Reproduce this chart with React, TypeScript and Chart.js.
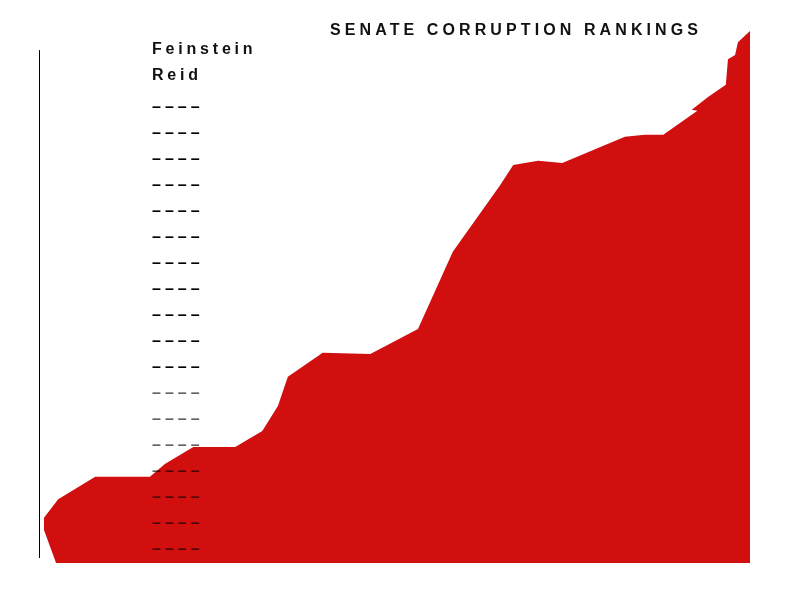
import { useEffect, useRef } from "react";
import { Chart, registerables } from "chart.js";

Chart.register(...registerables);

// ---- data ----
const TITLE = "SENATE CORRUPTION RANKINGS";
const NAMED = ["Feinstein", "Reid"];
const PLACEHOLDERS = [
  "––––", "––––", "––––", "––––", "––––", "––––", "––––", "––––", "––––",
  "––––", "––––", "––––", "––––", "––––", "––––", "––––", "––––", "––––",
];
const SOLID_PLACEHOLDERS = 11; // first placeholders drawn in solid black

// outline of the red area (x: position 0-100, y: score 0-100)
const OUTLINE_X = [
  2.4, 0.7, 0.7, 2.7, 7.9, 15.6, 17.7, 21.7, 27.6, 31.4, 33.6, 35.0,
  39.9, 46.6, 53.3, 58.2, 64.8, 66.7, 70.2, 73.6, 82.4, 85.2, 87.8, 92.6,
  91.8, 94.1, 96.6, 96.9, 97.9, 98.3, 100, 100,
];
const OUTLINE_Y = [
  0, 6.2, 8.5, 12.0, 16.2, 16.2, 18.6, 21.8, 21.8, 24.8, 29.5, 35.0,
  39.5, 39.3, 44.0, 58.5, 70.9, 74.8, 75.6, 75.2, 80.1, 80.5, 80.5, 85.0,
  85.2, 87.6, 89.9, 94.7, 95.5, 97.9, 100, 0,
];
const AXIS_FROM = 0.94;
const AXIS_TO = 96.4;

const FONT = 'bold 16px "Liberation Sans", Arial, sans-serif';

const overlay = {
  id: "overlay",
  afterDraw(chart: any) {
    const { ctx, scales, chartArea } = chart;
    const y = scales.y;
    ctx.save();
    // axis line
    ctx.strokeStyle = "#000";
    ctx.lineWidth = 1;
    ctx.beginPath();
    ctx.moveTo(chartArea.left + 0.5, y.getPixelForValue(AXIS_TO));
    ctx.lineTo(chartArea.left + 0.5, y.getPixelForValue(AXIS_FROM));
    ctx.stroke();
    // texts
    ctx.font = FONT;
    (ctx as any).letterSpacing = "4.1px";
    ctx.textBaseline = "alphabetic";
    ctx.textAlign = "left";
    ctx.fillStyle = "#111";
    ctx.fillText(TITLE, 330, 35);
    (ctx as any).letterSpacing = "3.8px";
    NAMED.forEach((t, i) => {
      ctx.fillStyle = "#111";
      ctx.fillText(t, 152, 53.5 + 26 * i);
    });
    (ctx as any).letterSpacing = "4px";
    PLACEHOLDERS.forEach((t, j) => {
      const i = j + NAMED.length;
      ctx.fillStyle = j < SOLID_PLACEHOLDERS ? "#000" : "rgba(0,0,0,0.62)";
      ctx.fillText(t, 152, 53.5 + 26 * i + 6.5);
    });
    ctx.restore();
  },
};

export default function App() {
  const ref = useRef<HTMLCanvasElement>(null);
  useEffect(() => {
    if (!ref.current) return;
    const chart = new Chart(ref.current, {
      type: "scatter",
      data: {
        datasets: [
          {
            data: OUTLINE_X.map((x, i) => ({ x, y: OUTLINE_Y[i] })),
            showLine: true,
            fill: "shape",
            backgroundColor: "#D10F0F",
            borderColor: "rgba(0,0,0,0)",
            borderWidth: 0,
            pointRadius: 0,
            tension: 0,
          } as any,
        ],
      },
      options: {
        animation: false,
        responsive: false,
        layout: { padding: { left: 39, top: 31, right: 50, bottom: 37 } },
        plugins: {
          legend: { display: false },
          tooltip: { enabled: false },
          title: { display: false },
        },
        scales: {
          x: { type: "linear", min: 0, max: 100, display: false },
          y: { type: "linear", min: 0, max: 100, display: false },
        },
      },
      plugins: [overlay],
    });
    return () => chart.destroy();
  }, []);
  return (
    <div style={{ position: "absolute", left: 0, top: 0, width: 800, height: 600, background: "#fff" }}>
      <canvas ref={ref} width={800} height={600} style={{ display: "block" }} />
    </div>
  );
}
